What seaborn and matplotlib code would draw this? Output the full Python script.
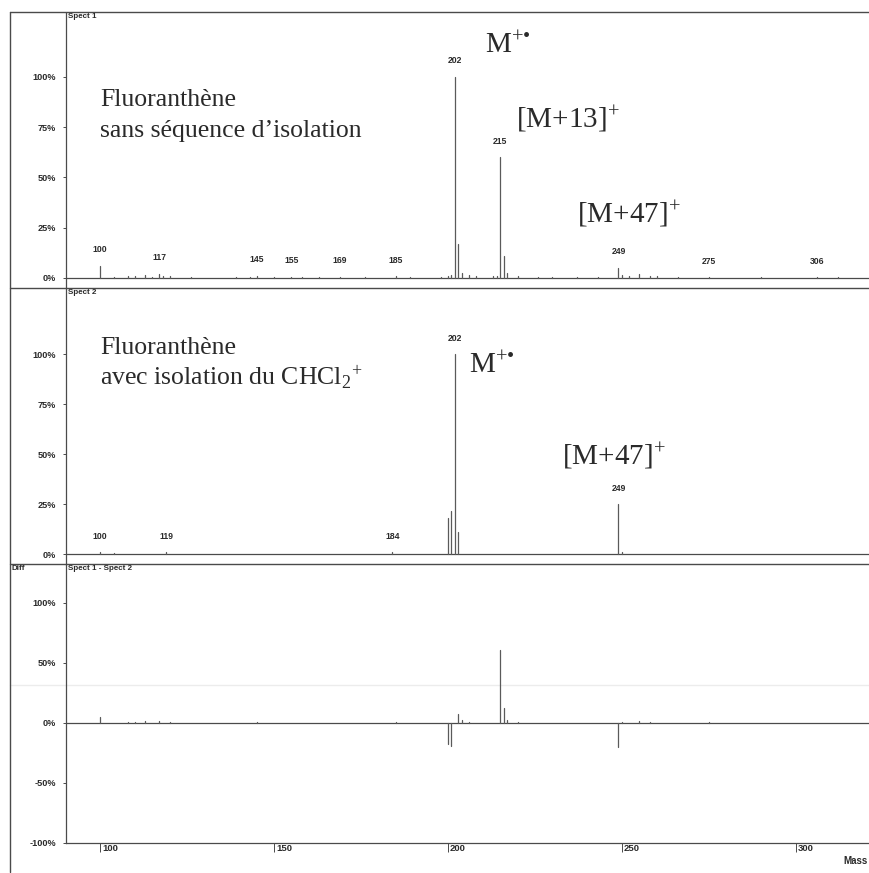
import numpy as np
import pandas as pd
import matplotlib
matplotlib.use("Agg")
import matplotlib.pyplot as plt
import matplotlib.transforms as mtransforms
from matplotlib.lines import Line2D
import seaborn as sns

# ---------------- data ----------------
mass1 = [100, 104, 108, 110, 113, 115, 117, 118, 120, 126, 139, 143, 145, 150, 155,
         158, 163, 169, 176, 185, 189, 198, 200, 201, 202, 203, 204, 206, 208, 213,
         214, 215, 216, 217, 220, 226, 230, 237, 243, 249, 250, 252, 255, 258, 260,
         266, 275, 290, 306, 312]
inten1 = [6, 0.5, 1.0, 0.8, 1.5, 0.5, 2.0, 0.8, 0.8, 0.5, 0.4, 0.5, 1.2, 0.4, 0.6,
          0.4, 0.4, 0.6, 0.4, 0.8, 0.3, 0.5, 0.8, 1.5, 100, 17, 2.5, 1.5, 1.0, 0.8,
          1.2, 60, 11, 2.5, 1.0, 0.5, 0.5, 0.5, 0.5, 5, 1.5, 0.8, 2.0, 1.0, 1.0,
          0.5, 0.5, 0.3, 0.5, 0.3]
labels1 = [100, 117, 145, 155, 169, 185, 202, 215, 249, 275, 306]

mass2 = [100, 104, 119, 184, 200, 201, 202, 203, 249, 250]
inten2 = [0.8, 0.3, 0.8, 0.8, 18, 21.5, 100, 11, 25, 1.0]
labels2 = [100, 119, 184, 202, 249]

mass_d = [100, 108, 110, 113, 117, 120, 145, 185, 200, 201, 203, 204, 206, 215, 216,
          217, 220, 249, 250, 255, 258, 275]
inten_d = [5, 0.8, 0.6, 1.2, 1.5, 0.6, 0.8, 0.5, -17.5, -19, 7.5, 2, 1, 61, 12,
           2, 0.8, -20, 0.8, 1.5, 0.8, 0.5]

ticks_pos = [0, 25, 50, 75, 100]
ticks_diff = [-100, -50, 0, 50, 100]
mass_ticks = [100, 150, 200, 250, 300]

# ---------------- style ----------------
sns.set_theme(style="white")
plt.rcParams["font.family"] = ["Liberation Sans", "DejaVu Sans"]
plt.rcParams["mathtext.fontset"] = "custom"
plt.rcParams["mathtext.rm"] = "Liberation Serif"
plt.rcParams["mathtext.it"] = "Liberation Serif:italic"
plt.rcParams["mathtext.bf"] = "Liberation Serif:bold"
plt.rcParams["mathtext.default"] = "rm"

W, H = 869, 873
fig = plt.figure(figsize=(W / 100, H / 100), dpi=100)
fig.patch.set_facecolor("white")

LINE = "#4a4a4a"
PEAK = "#5a5a5a"
TXT = "#2a2a2a"
SERIF = ["Liberation Serif", "DejaVu Serif"]
SMALL = 6.2


def px_axes(top, bottom, left=66, right=869):
    return fig.add_axes([left / W, 1 - bottom / H, (right - left) / W, (bottom - top) / H])


def sticks(ax, masses, vals):
    rows = []
    for i, (m, v) in enumerate(zip(masses, vals)):
        rows.append({"mass": m, "pct": 0.0, "peak": i})
        rows.append({"mass": m, "pct": v, "peak": i})
    df = pd.DataFrame(rows)
    sns.lineplot(data=df, x="mass", y="pct", units="peak", estimator=None,
                 color=PEAK, lw=0.9, ax=ax, legend=False, sort=False)
    ax.set_xlabel("")
    ax.set_ylabel("")


def style_axes(ax, ylim, yticks, xlim=(90.2, 321.0), bottom_axis=False):
    ax.set_xlim(*xlim)
    ax.set_ylim(*ylim)
    ax.patch.set_alpha(0)
    for s in ["top", "right", "bottom"]:
        ax.spines[s].set_visible(False)
    ax.spines["left"].set_color(LINE)
    ax.spines["left"].set_linewidth(0.9)
    ax.set_yticks(yticks)
    ax.set_yticklabels([f"{t}%" for t in yticks])
    ax.tick_params(axis="y", direction="out", length=2.5, width=0.7, color=LINE,
                   pad=4.5, labelsize=6.6, labelcolor=TXT, left=True)
    for lab in ax.get_yticklabels():
        lab.set_fontweight("bold")
    if not bottom_axis:
        ax.set_xticks([])
    ax.axhline(0, color=LINE, lw=0.9, zorder=1)


def peak_labels(ax, masses, vals, which):
    lookup = dict(zip(masses, vals))
    for m in which:
        ax.annotate(str(m), xy=(m, lookup[m]), xytext=(0, 11.5), textcoords="offset points",
                    ha="center", va="center", fontsize=SMALL, fontweight="bold", color=TXT)


def serif(ax, x, y, s, size):
    ax.text(x, y, s, fontsize=size, family=SERIF, color=TXT, va="baseline")


ION = 21
TITLE = 18.5
M_RAD = "M$^{+\u2022}$"

# ---- panel 1
ax1 = px_axes(13, 288)
sticks(ax1, mass1, inten1)
style_axes(ax1, (-4.98, 131.8), ticks_pos)
peak_labels(ax1, mass1, inten1, labels1)
serif(ax1, 100, 85.6, "Fluoranthène", TITLE)
serif(ax1, 100, 70.1, "sans séquence d’isolation", TITLE)
serif(ax1, 210.6, 112, M_RAD, ION)
serif(ax1, 219.5, 74.6, "[M+13]$^{+}$", ION)
serif(ax1, 237.0, 27.5, "[M+47]$^{+}$", ION)

# ---- panel 2
ax2 = px_axes(288, 564)
sticks(ax2, mass2, inten2)
style_axes(ax2, (-5.0, 133.0), ticks_pos)
peak_labels(ax2, mass2, inten2, labels2)
serif(ax2, 100, 100, "Fluoranthène", TITLE)
serif(ax2, 100, 84.5, "avec isolation du CHCl$_2$$^{+}$", TITLE)
serif(ax2, 206.0, 90.5, M_RAD, ION)
serif(ax2, 232.8, 44.5, "[M+47]$^{+}$", ION)

# ---- panel 3 (difference)
ax3 = px_axes(564, 843)
sticks(ax3, mass_d, inten_d)
style_axes(ax3, (-100, 132.2), ticks_diff, bottom_axis=True)
ax3.spines["bottom"].set_visible(True)
ax3.spines["bottom"].set_color(LINE)
ax3.spines["bottom"].set_linewidth(0.9)
ax3.set_xticks(mass_ticks)
ax3.set_xticklabels([str(t) for t in mass_ticks])
ax3.tick_params(axis="x", direction="out", length=6.5, width=0.7, color=LINE,
                pad=-5.8, labelsize=6.8, labelcolor=TXT, bottom=True)
shift = mtransforms.ScaledTranslation(2 / 100, 0, fig.dpi_scale_trans)
for lab in ax3.get_xticklabels():
    lab.set_horizontalalignment("left")
    lab.set_fontweight("bold")
    lab.set_transform(lab.get_transform() + shift)

# ---------------- frame & headers ----------------
def fline(x0, y0, x1, y1, color=LINE, lw=1.0, z=2):
    fig.add_artist(Line2D([x0 / W, x1 / W], [1 - y0 / H, 1 - y1 / H], color=color, lw=lw,
                          transform=fig.transFigure, zorder=z))

fline(10, 12, 10, 872)
fline(10, 12, 869, 12)
fline(10, 288, 869, 288)
fline(10, 564, 869, 564)
fline(10, 685, 869, 685, color="#ececec", lw=1.0, z=-5)

def ftext(x, y, s, **kw):
    fig.text(x / W, 1 - y / H, s, **kw)

HDR = 5.8
ftext(68, 13, "Spect 1", fontsize=HDR, fontweight="bold", color=TXT, va="top", ha="left")
ftext(68, 289, "Spect 2", fontsize=HDR, fontweight="bold", color=TXT, va="top", ha="left")
ftext(68, 565, "Spect 1 - Spect 2", fontsize=HDR, fontweight="bold", color=TXT, va="top", ha="left")
ftext(12, 565, "Diff", fontsize=HDR, fontweight="bold", color=TXT, va="top", ha="left")
ftext(843, 861, "Mass", fontsize=7, fontweight="bold", color=TXT, va="center", ha="left")

fig.savefig("out.png", dpi=100, facecolor="white")
